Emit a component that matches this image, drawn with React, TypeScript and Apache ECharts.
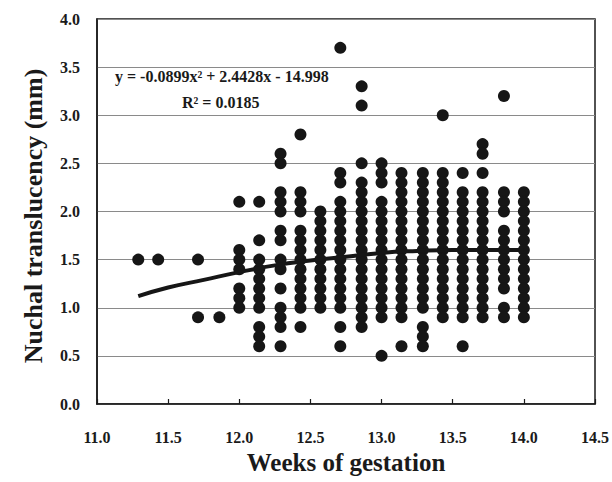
import React, { useEffect, useRef } from "react";
import * as echarts from "echarts";

// Gestational age columns (weeks + days)
const weeks = [11.29, 11.43, 11.71, 11.86, 12.0, 12.14, 12.29, 12.43, 12.57, 12.71, 12.86, 13.0, 13.14, 13.29, 13.43, 13.57, 13.71, 13.86, 14.0];

// Nuchal translucency values (mm) read for each column
const ntValues: number[][] = [
  [1.5],
  [1.5],
  [1.5, 0.9],
  [0.9],
  [2.1, 1.6, 1.5, 1.4, 1.2, 1.1, 1.0],
  [2.1, 1.7, 1.5, 1.4, 1.3, 1.2, 1.1, 1.0, 0.8, 0.7, 0.6],
  [2.6, 2.5, 2.2, 2.1, 2.0, 1.8, 1.7, 1.5, 1.4, 1.2, 1.0, 0.9, 0.8, 0.6],
  [2.8, 2.2, 2.1, 2.0, 1.8, 1.7, 1.6, 1.5, 1.4, 1.3, 1.2, 1.1, 1.0, 0.8],
  [2.0, 1.9, 1.8, 1.7, 1.6, 1.5, 1.4, 1.3, 1.2, 1.1, 1.0],
  [3.7, 2.4, 2.3, 2.1, 2.0, 1.9, 1.8, 1.7, 1.6, 1.5, 1.4, 1.3, 1.2, 1.1, 1.0, 0.8, 0.6],
  [3.3, 3.1, 2.5, 2.3, 2.2, 2.1, 2.0, 1.9, 1.8, 1.7, 1.6, 1.5, 1.4, 1.3, 1.2, 1.1, 1.0, 0.9, 0.8],
  [2.5, 2.4, 2.3, 2.1, 2.0, 1.9, 1.8, 1.7, 1.6, 1.5, 1.4, 1.3, 1.2, 1.1, 1.0, 0.9, 0.5],
  [2.4, 2.3, 2.2, 2.1, 2.0, 1.9, 1.8, 1.7, 1.6, 1.5, 1.4, 1.3, 1.2, 1.1, 1.0, 0.9, 0.6],
  [2.4, 2.3, 2.2, 2.1, 2.0, 1.9, 1.8, 1.7, 1.6, 1.5, 1.4, 1.3, 1.2, 1.1, 1.0, 0.8, 0.7, 0.6],
  [3.0, 2.4, 2.3, 2.2, 2.1, 2.0, 1.9, 1.8, 1.7, 1.6, 1.5, 1.4, 1.3, 1.2, 1.1, 1.0, 0.9],
  [2.4, 2.2, 2.1, 2.0, 1.9, 1.8, 1.7, 1.6, 1.5, 1.4, 1.3, 1.2, 1.1, 1.0, 0.9, 0.6],
  [2.7, 2.6, 2.4, 2.2, 2.1, 2.0, 1.9, 1.8, 1.7, 1.6, 1.5, 1.4, 1.3, 1.2, 1.1, 1.0, 0.9],
  [3.2, 2.2, 2.1, 2.0, 1.8, 1.7, 1.6, 1.5, 1.4, 1.3, 1.2, 1.0, 0.9],
  [2.2, 2.1, 2.0, 1.9, 1.8, 1.7, 1.6, 1.5, 1.4, 1.3, 1.2, 1.1, 1.0, 0.9],
];

// Fitted trend line
const trendX = [11.29, 11.5, 11.75, 12.0, 12.25, 12.5, 12.75, 13.0, 13.25, 13.5, 13.75, 14.0];
const trendY = [1.12, 1.21, 1.29, 1.37, 1.44, 1.49, 1.53, 1.57, 1.59, 1.6, 1.6, 1.6];

const xTicks = ["11.0", "11.5", "12.0", "12.5", "13.0", "13.5", "14.0", "14.5"];
const yTicks = ["0.0", "0.5", "1.0", "1.5", "2.0", "2.5", "3.0", "3.5", "4.0"];

const xTitle = "Weeks of gestation";
const yTitle = "Nuchal translucency (mm)";
const equationText = "y = -0.0899x\u00B2 + 2.4428x - 14.998";
const r2Text = "R\u00B2 = 0.0185";

const FONT = '"Liberation Serif", "Times New Roman", serif';

export default function App() {
  const ref = useRef<HTMLDivElement>(null);

  useEffect(() => {
    document.body.style.margin = "0";
    if (!ref.current) return;
    const chart = echarts.init(ref.current, null, { renderer: "svg" });

    const scatterData: number[][] = [];
    weeks.forEach((w, i) => {
      ntValues[i].forEach((v) => scatterData.push([w, v]));
    });
    const trendData = trendX.map((x, i) => [x, trendY[i]]);

    chart.setOption({
      animation: false,
      backgroundColor: "#ffffff",
      grid: {
        left: 97,
        right: 13,
        top: 19,
        bottom: 78,
        show: true,
        borderColor: "#1a1a1a",
        borderWidth: 1.5,
        backgroundColor: "transparent",
      },
      xAxis: {
        type: "value",
        min: 11,
        max: 14.5,
        interval: 0.5,
        name: xTitle,
        nameLocation: "middle",
        nameGap: 46,
        nameTextStyle: { fontFamily: FONT, fontWeight: "bold", fontSize: 25, color: "#1a1a1a" },
        axisLine: { show: true, lineStyle: { color: "#1a1a1a", width: 1.5 } },
        axisTick: { show: true, inside: true, length: 5, lineStyle: { color: "#1a1a1a", width: 1.2 } },
        splitLine: { show: false },
        axisLabel: {
          margin: 25,
          fontFamily: FONT,
          fontWeight: "bold",
          fontSize: 16,
          color: "#1a1a1a",
          formatter: (v: number) => xTicks[Math.round((v - 11) / 0.5)] ?? v.toFixed(1),
        },
      },
      yAxis: {
        type: "value",
        min: 0,
        max: 4,
        interval: 0.5,
        axisLine: { show: true, lineStyle: { color: "#1a1a1a", width: 1.5 } },
        axisTick: { show: false },
        splitLine: { show: true, lineStyle: { color: "#8a8a8a", width: 1 } },
        axisLabel: {
          margin: 17,
          fontFamily: FONT,
          fontWeight: "bold",
          fontSize: 16,
          color: "#1a1a1a",
          formatter: (v: number) => yTicks[Math.round(v / 0.5)] ?? v.toFixed(1),
        },
      },
      series: [
        {
          type: "scatter",
          data: scatterData,
          symbol: "circle",
          symbolSize: 12,
          itemStyle: { color: "#161616", opacity: 1 },
          z: 3,
        },
        {
          type: "line",
          data: trendData,
          smooth: true,
          showSymbol: false,
          symbol: "none",
          lineStyle: { color: "#161616", width: 4 },
          z: 4,
        },
      ],
      graphic: [
        {
          type: "text",
          x: 33,
          y: 216,
          rotation: Math.PI / 2,
          style: {
            text: yTitle,
            fontFamily: FONT,
            fontWeight: "bold",
            fontSize: 26,
            fill: "#1a1a1a",
            align: "center",
            verticalAlign: "middle",
          },
        },
        {
          type: "text",
          left: 115,
          top: 68,
          style: { text: equationText, fontFamily: FONT, fontWeight: "bold", fontSize: 16, fill: "#1a1a1a" },
        },
        {
          type: "text",
          left: 182,
          top: 94,
          style: { text: r2Text, fontFamily: FONT, fontWeight: "bold", fontSize: 16, fill: "#1a1a1a" },
        },
      ],
    });

    return () => chart.dispose();
  }, []);

  return (
    <div
      ref={ref}
      style={{ position: "absolute", left: 0, top: 0, width: 612, height: 482 }}
    />
  );
}
